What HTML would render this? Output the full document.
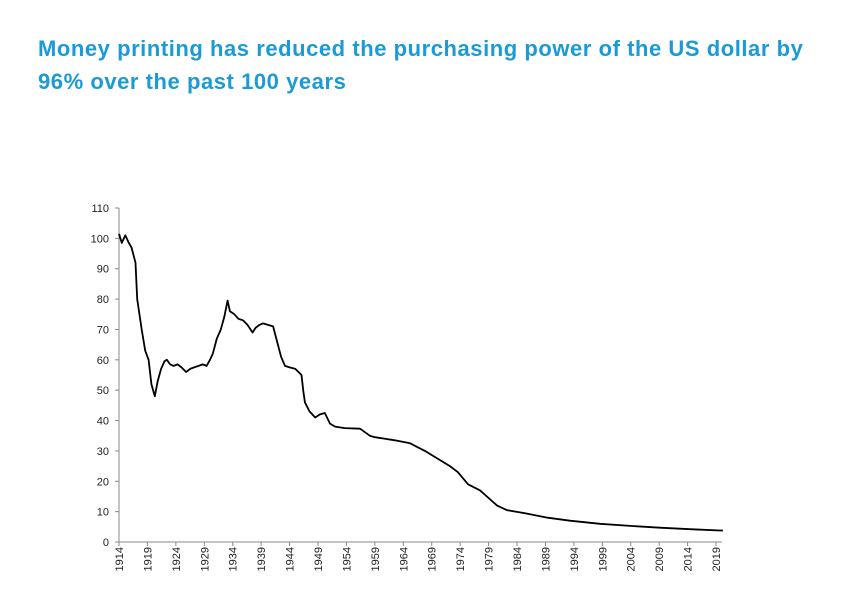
<!DOCTYPE html>
<html><head><meta charset="utf-8"><style>
body{margin:0;background:#fff;width:854px;height:600px;overflow:hidden;font-family:"Liberation Sans",sans-serif}
#title{position:absolute;left:38px;top:32px;width:816px;white-space:nowrap;color:#1a9ad6;font-size:22px;font-weight:bold;line-height:33px;letter-spacing:0.55px}
svg{position:absolute;left:0;top:0}
</style></head><body>
<div id="title">Money printing has reduced the purchasing power of the US dollar by<br>96% over the past 100 years</div>
<svg id="chart" width="854" height="600"></svg>
<script>
const years=[1914,1914.5,1915.1,1915.6,1916.2,1916.9,1917.2,1918,1918.6,1919.2,1919.7,1920.3,1920.8,1921.4,1922,1922.4,1923,1923.6,1924.3,1925,1925.8,1926.5,1927.2,1928,1928.7,1929.4,1930,1930.5,1931.2,1931.9,1932.5,1933.1,1933.5,1934.3,1935,1935.8,1936.6,1937.5,1938,1938.7,1939.3,1940.2,1941.1,1941.8,1942.5,1943.2,1944,1945,1946.1,1946.4,1946.7,1947.5,1948.5,1949.3,1950.2,1951.1,1952,1953.7,1956.4,1958.1,1959,1962.5,1965.2,1967.8,1970,1972.2,1973.6,1975.4,1977.5,1978.7,1980.5,1982.2,1985.4,1989.4,1993.3,1998.6,2003.9,2009.1,2014.4,2019.7,2020.2];
const values=[101.5,98.5,101,99,97,92,80,70,63,60,52,48,53,57,59.5,60,58.5,58,58.5,57.5,56,57,57.5,58,58.5,58,60,62,67,70,74,79.5,76,75,73.5,73,71.5,69,70.5,71.5,72,71.5,71,66,61,58,57.5,57,55,50,46,43,41,42,42.5,39,38,37.5,37.3,35,34.5,33.5,32.5,30,27.5,25,23,19,17,15,12,10.5,9.5,8,7,6,5.3,4.7,4.2,3.8,3.8];
const yTicks=[0,10,20,30,40,50,60,70,80,90,100,110];
const xTicks=[1914,1919,1924,1929,1934,1939,1944,1949,1954,1959,1964,1969,1974,1979,1984,1989,1994,1999,2004,2009,2014,2019];
const NS="http://www.w3.org/2000/svg";
const svg=document.getElementById('chart');
const X0=119,PXY=5.686,Y0=542,PYV=334/110;
const xs=v=>X0+(v-1914)*PXY, ys=v=>Y0-v*PYV;
function mk(t,a){const e=document.createElementNS(NS,t);for(const k in a)e.setAttribute(k,a[k]);svg.appendChild(e);return e;}
const ya=mk('line',{x1:X0,y1:ys(110),x2:X0,y2:Y0,stroke:'#888','stroke-width':1});


const xa=mk('line',{x1:X0-3,y1:Y0,x2:722,y2:Y0,stroke:'#888','stroke-width':1});


yTicks.forEach(v=>{
 mk('line',{x1:X0-4,x2:X0,y1:ys(v),y2:ys(v),stroke:'#888'});
 const t=mk('text',{x:X0-10,y:ys(v)+4,'text-anchor':'end','font-size':11,fill:'#222'});
 t.textContent=v;
 
 
});
xTicks.forEach(v=>{
 mk('line',{x1:xs(v),x2:xs(v),y1:Y0,y2:Y0+4,stroke:'#888'});
 const t=mk('text',{x:0,y:0,'text-anchor':'end','font-size':11,fill:'#222',transform:`translate(${xs(v)+4},${Y0+5}) rotate(-90)`});
 t.textContent=v;
 
 
});
const d=years.map((y,i)=>(i?'L':'M')+xs(y).toFixed(1)+','+ys(values[i]).toFixed(1)).join(' ');
const p=mk('path',{d:d,fill:'none',stroke:'#000','stroke-width':1.8,'stroke-linejoin':'round'});


</script>
</body></html>
